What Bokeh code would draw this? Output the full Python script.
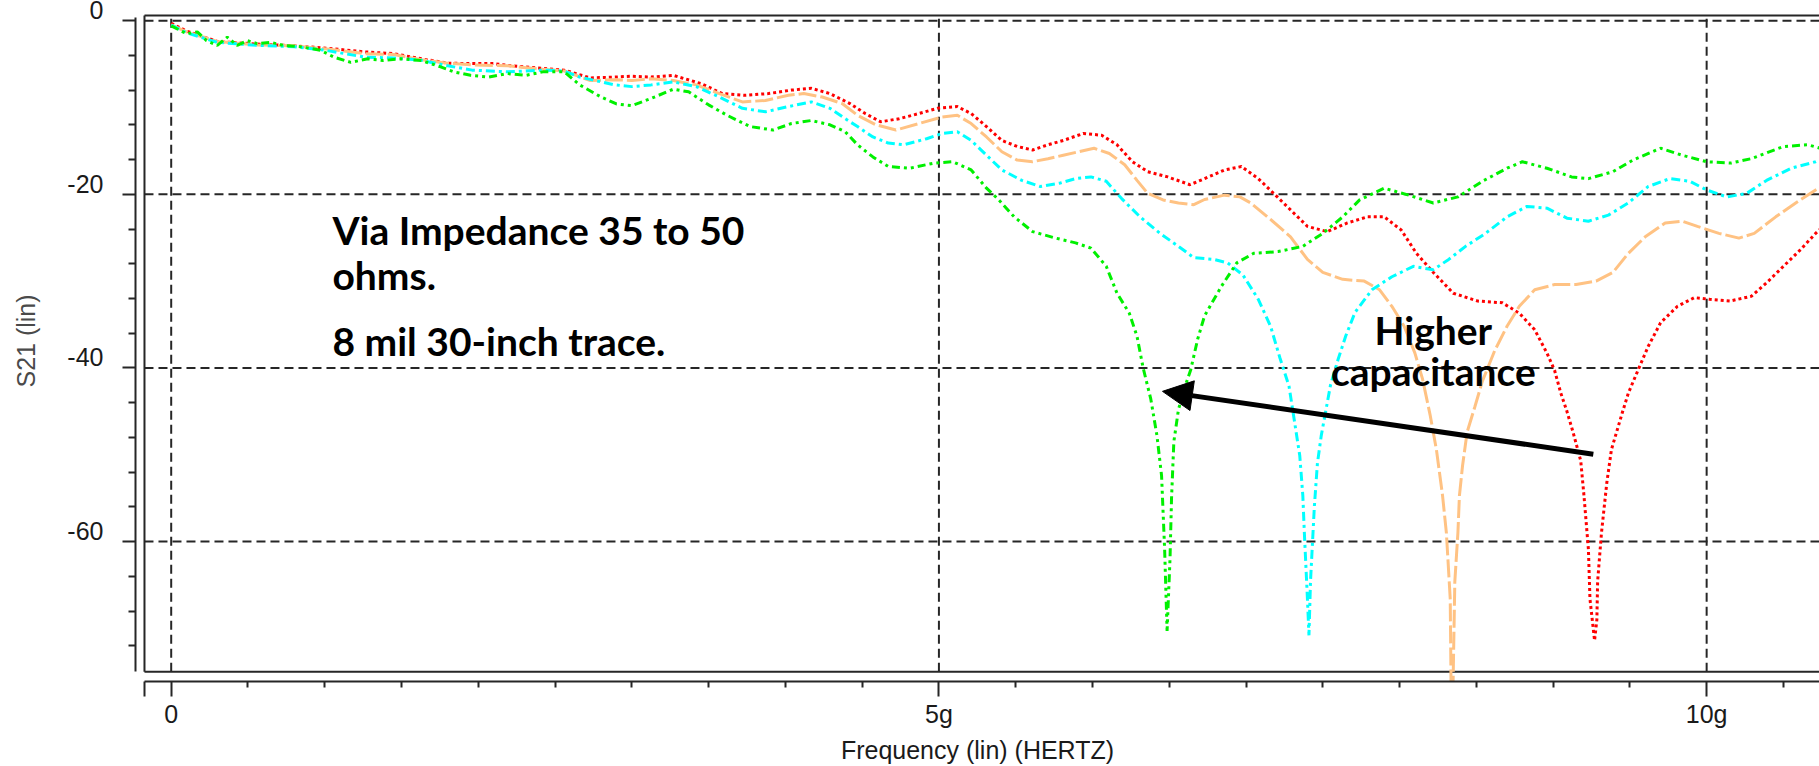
import math

from bokeh.plotting import figure
from bokeh.models import (ColumnDataSource, Range1d, FixedTicker, CustomJSTickFormatter,
                          Label, Arrow, NormalHead, LinearAxis)
from bokeh.embed import file_html
from bokeh.resources import INLINE

# ---------------------------------------------------------------------------
# S21 magnitude (lin) versus frequency (GHz) for four via impedances
# ---------------------------------------------------------------------------
freq_red = [0.00, 0.10, 0.30, 0.56, 0.80, 1.03, 1.26, 1.45, 1.63, 1.80, 1.96, 2.10, 2.19, 2.42,
            2.56, 2.73, 2.89, 3.00, 3.125, 3.27, 3.45, 3.59, 3.74, 3.89, 4.04, 4.17, 4.29, 4.42,
            4.52, 4.62, 4.74, 4.87, 4.99, 5.12, 5.21, 5.31, 5.41, 5.51, 5.61, 5.71, 5.81, 5.94,
            6.06, 6.16, 6.26, 6.36, 6.49, 6.635, 6.73, 6.86, 6.97, 7.08, 7.18, 7.29, 7.40, 7.53,
            7.66, 7.79, 7.90, 8.01, 8.11, 8.22, 8.35, 8.51, 8.67, 8.78, 8.88, 8.96, 9.01, 9.05,
            9.09, 9.13, 9.18, 9.20, 9.23, 9.24, 9.27, 9.285, 9.29, 9.315, 9.35, 9.38, 9.45, 9.49,
            9.545, 9.62, 9.70, 9.81, 9.92, 10.02, 10.15, 10.29, 10.39, 10.50, 10.61, 10.71, 10.74]
s21_red = [-0.3, -1.2, -2.4, -2.7, -2.9, -3.2, -3.6, -3.8, -4.4, -4.9, -4.95, -4.95, -5.15, -5.5,
           -5.7, -6.6, -6.5, -6.4, -6.5, -6.3, -7.25, -8.4, -8.6, -8.4, -8.0, -7.8, -8.4, -9.55,
           -10.7, -11.65, -11.3, -10.7, -10.1, -9.9, -10.7, -12.2, -13.8, -14.5, -14.9, -14.3,
           -13.8, -13.0, -13.2, -14.3, -16.25, -17.4, -18.0, -18.9, -18.2, -17.2, -16.8, -18.2,
           -19.9, -21.8, -23.7, -24.3, -23.3, -22.6, -22.6, -24.1, -26.8, -29.0, -31.4, -32.3,
           -32.5, -33.7, -35.6, -38.3, -40.3, -42.9, -45.0, -47.4, -50.7, -54.5, -60.9, -66.6,
           -71.4, -69.0, -64.6, -59.0, -53.2, -49.4, -45.2, -42.9, -40.6, -37.5, -34.8, -32.9,
           -31.9, -32.1, -32.3, -31.75, -30.2, -28.3, -26.4, -24.5, -24.0]

freq_peach = [0.00, 0.10, 0.30, 0.56, 0.80, 1.03, 1.26, 1.45, 1.63, 1.80, 1.96, 2.19, 2.42, 2.56,
              2.73, 2.89, 3.00, 3.125, 3.27, 3.42, 3.57, 3.72, 3.87, 4.02, 4.12, 4.24, 4.37, 4.47,
              4.59, 4.72, 4.87, 5.02, 5.12, 5.21, 5.31, 5.41, 5.51, 5.61, 5.71, 5.81, 5.91, 6.01,
              6.11, 6.21, 6.29, 6.36, 6.46, 6.56, 6.66, 6.73, 6.86, 6.96, 7.03, 7.16, 7.29, 7.40,
              7.50, 7.63, 7.77, 7.87, 7.95, 8.03, 8.10, 8.15, 8.20, 8.24, 8.28, 8.305, 8.33, 8.34,
              8.36, 8.38, 8.39, 8.41, 8.44, 8.49, 8.54, 8.62, 8.70, 8.78, 8.88, 9.01, 9.15, 9.28,
              9.39, 9.49, 9.60, 9.73, 9.84, 9.94, 10.08, 10.21, 10.31, 10.45, 10.58, 10.71, 10.74]
s21_peach = [-0.5, -1.3, -2.4, -2.8, -2.9, -3.3, -3.8, -3.9, -4.5, -4.9, -5.1, -5.2, -5.6, -5.8,
             -6.9, -6.8, -6.9, -6.7, -6.9, -7.4, -8.4, -9.36, -9.2, -8.6, -8.4, -8.8, -9.55,
             -10.9, -12.0, -12.6, -11.85, -11.1, -10.9, -11.85, -13.4, -15.1, -16.06, -16.25,
             -15.9, -15.5, -15.1, -14.7, -15.3, -16.6, -18.4, -19.9, -20.65, -21.0, -21.2, -20.6,
             -20.1, -20.3, -21.0, -22.9, -24.9, -27.5, -29.0, -29.8, -30.0, -31.0, -32.9, -35.2,
             -38.3, -41.3, -45.5, -49.4, -54.7, -59.0, -66.6, -85.0, -64.6, -59.0, -54.7, -51.3,
             -47.4, -44.5, -41.5, -38.0, -35.2, -32.9, -31.0, -30.4, -30.4, -30.0, -29.0, -26.8,
             -24.9, -23.3, -23.1, -23.7, -24.5, -25.05, -24.5, -22.6, -21.0, -19.5, -19.2]

freq_cyan = [0.00, 0.10, 0.30, 0.56, 0.80, 1.00, 1.26, 1.45, 1.63, 1.80, 1.96, 2.19, 2.42, 2.56,
             2.66, 2.89, 3.00, 3.125, 3.27, 3.42, 3.57, 3.72, 3.87, 4.02, 4.17, 4.29, 4.39, 4.47,
             4.57, 4.67, 4.77, 4.92, 5.02, 5.12, 5.21, 5.31, 5.41, 5.54, 5.66, 5.79, 5.89, 5.99,
             6.09, 6.19, 6.31, 6.44, 6.56, 6.66, 6.79, 6.88, 6.98, 7.08, 7.16, 7.22, 7.28, 7.31,
             7.35, 7.37, 7.38, 7.40, 7.41, 7.42, 7.445, 7.465, 7.49, 7.55, 7.60, 7.65, 7.71, 7.82,
             7.95, 8.09, 8.22, 8.32, 8.43, 8.56, 8.70, 8.83, 8.96, 9.09, 9.23, 9.36, 9.49, 9.62,
             9.76, 9.89, 10.00, 10.13, 10.26, 10.39, 10.55, 10.71, 10.74]
s21_cyan = [-0.5, -1.4, -2.5, -2.85, -3.0, -3.4, -4.2, -4.3, -4.57, -5.2, -5.7, -5.9, -5.7, -5.8,
            -6.5, -7.4, -7.6, -7.4, -7.06, -7.6, -8.8, -10.1, -10.5, -9.9, -9.36, -10.1, -11.3,
            -12.2, -13.4, -14.1, -14.3, -13.6, -13.0, -12.8, -13.8, -15.5, -17.2, -18.4, -19.1,
            -18.7, -18.2, -18.0, -18.5, -20.5, -22.6, -24.5, -26.0, -27.3, -27.5, -27.9, -29.3,
            -32.1, -35.2, -38.8, -42.1, -45.5, -50.1, -54.7, -59.0, -66.6, -70.8, -64.6, -56.0,
            -51.0, -47.8, -42.0, -39.0, -36.3, -33.6, -31.0, -29.5, -28.3, -28.7, -27.5, -26.0,
            -24.5, -22.6, -21.4, -21.6, -22.75, -23.1, -22.4, -21.0, -19.1, -18.2, -18.5, -19.5,
            -20.3, -19.9, -18.4, -17.0, -16.25, -16.0]

freq_green = [0.00, 0.10, 0.17, 0.23, 0.30, 0.365, 0.43, 0.495, 0.56, 0.65, 0.73, 0.84, 0.97,
              1.06, 1.17, 1.28, 1.38, 1.49, 1.63, 1.75, 1.84, 1.95, 2.07, 2.19, 2.31, 2.42, 2.56,
              2.66, 2.80, 2.90, 3.00, 3.12, 3.27, 3.37, 3.50, 3.62, 3.77, 3.92, 4.04, 4.17, 4.29,
              4.39, 4.47, 4.57, 4.67, 4.81, 4.97, 5.09, 5.21, 5.31, 5.39, 5.49, 5.61, 5.76, 5.89,
              5.99, 6.09, 6.16, 6.24, 6.29, 6.33, 6.38, 6.42, 6.45, 6.47, 6.486, 6.505, 6.515,
              6.53, 6.56, 6.60, 6.64, 6.685, 6.73, 6.84, 6.94, 7.05, 7.21, 7.37, 7.50, 7.63, 7.74,
              7.90, 8.06, 8.22, 8.38, 8.54, 8.70, 8.80, 8.96, 9.12, 9.23, 9.39, 9.52, 9.70, 9.84,
              10.00, 10.16, 10.29, 10.50, 10.66, 10.74]
s21_green = [-0.6, -1.5, -1.3, -2.3, -2.85, -1.9, -2.85, -2.3, -2.65, -2.5, -2.85, -3.0, -3.4,
             -4.2, -4.8, -4.4, -4.6, -4.4, -4.6, -5.3, -5.9, -6.3, -6.5, -6.1, -6.3, -5.9, -5.9,
             -7.4, -8.8, -9.6, -9.8, -9.0, -7.9, -8.2, -9.7, -10.9, -12.2, -12.6, -11.85, -11.5,
             -12.0, -12.8, -14.3, -15.7, -16.8, -17.0, -16.4, -16.25, -17.2, -19.3, -20.65, -22.6,
             -24.3, -25.05, -25.6, -26.2, -28.3, -31.4, -33.7, -36.35, -40.0, -43.6, -47.8, -52.4,
             -60.9, -70.3, -62.0, -55.0, -48.5, -44.8, -42.3, -40.2, -36.7, -34.0, -30.6, -27.9,
             -26.8, -26.6, -26.0, -24.5, -22.6, -20.65, -19.3, -20.1, -21.0, -20.3, -18.5, -17.0,
             -16.25, -17.0, -18.0, -18.2, -17.4, -16.06, -14.7, -15.5, -16.25, -16.4, -15.9, -14.5,
             -14.3, -14.7]

# axis ticks and labels
x_tick_values = [0, 5, 10]
x_tick_labels = ["0", "5g", "10g"]
y_tick_values = [0, -20, -40, -60]
y_tick_labels = ["0", "-20", "-40", "-60"]

# ---------------------------------------------------------------------------
# plot geometry (data units)
# ---------------------------------------------------------------------------
X_LO, X_HI = -0.2325, 10.735
Y_LO, Y_HI = -76.12, 2.32
BOX_LEFT, BOX_TOP, BOX_BOTTOM = -0.174, 0.6, -75.0
BOX_RIGHT = 11.5
LABEL_LIFT = 1.2          # y tick labels sit a little above their ticks

INK = "#262626"
TXT = "#1a1a1a"
AXIS_FONT = "Liberation Sans"


def lookup_formatter(vals, labs):
    return CustomJSTickFormatter(
        args=dict(vals=vals, labs=labs),
        code="""
        for (let i = 0; i < vals.length; i++) {
            if (Math.abs(vals[i] - tick) < 1e-6) { return labs[i]; }
        }
        return "";
        """)


p = figure(width=1819, height=766, title=None,
           x_range=Range1d(X_LO, X_HI), y_range=Range1d(Y_LO, Y_HI),
           output_backend="svg", toolbar_location=None,
           min_border_left=135, min_border_right=0, min_border_top=0, min_border_bottom=83)
p.outline_line_color = None
p.grid.visible = False
p.background_fill_color = "white"
p.border_fill_color = "white"
p.extra_y_ranges = {"ylab": Range1d(Y_LO - LABEL_LIFT, Y_HI - LABEL_LIFT)}

# x axis: separate base line below the box, ticks pointing down
xa = p.xaxis[0]
x_minor = [0.5 * k for k in range(1, 23) if k % 10 != 0]
xa.ticker = FixedTicker(ticks=[BOX_LEFT] + x_tick_values, minor_ticks=x_minor)
xa.formatter = lookup_formatter(x_tick_values, x_tick_labels)
xa.bounds = (BOX_LEFT - 0.002, BOX_RIGHT)
xa.axis_line_width = 2
xa.axis_line_color = INK
xa.major_tick_in = 0
xa.major_tick_out = 15
xa.minor_tick_in = 0
xa.minor_tick_out = 6
xa.major_tick_line_width = 2
xa.minor_tick_line_width = 2
xa.major_tick_line_color = INK
xa.minor_tick_line_color = INK
xa.major_label_text_font = AXIS_FONT
xa.major_label_text_font_size = "25px"
xa.major_label_text_color = TXT
xa.major_label_standoff = 3
xa.axis_label = "Frequency (lin) (HERTZ)"
xa.axis_label_standoff = 5
xa.axis_label_text_font = AXIS_FONT
xa.axis_label_text_font_size = "25px"
xa.axis_label_text_font_style = "normal"
xa.axis_label_text_color = TXT

# y axis: separate base line left of the box, ticks only
ya = p.yaxis[0]
y_minor = [-4 * k for k in range(1, 19) if k % 5 != 0]
ya.ticker = FixedTicker(ticks=y_tick_values, minor_ticks=y_minor)
ya.formatter = CustomJSTickFormatter(code="return '';")
ya.bounds = (BOX_BOTTOM, 0.37)
ya.axis_line_width = 2
ya.axis_line_color = INK
ya.major_tick_in = 0
ya.major_tick_out = 13
ya.minor_tick_in = 0
ya.minor_tick_out = 7
ya.major_tick_line_width = 2
ya.minor_tick_line_width = 2
ya.major_tick_line_color = INK
ya.minor_tick_line_color = INK
ya.major_label_standoff = 0

# y tick labels and title, lifted slightly above the ticks
ylab = LinearAxis(y_range_name="ylab",
                  ticker=FixedTicker(ticks=y_tick_values, minor_ticks=[]),
                  formatter=lookup_formatter(y_tick_values, y_tick_labels),
                  axis_line_color=None, major_tick_line_color=None, minor_tick_line_color=None,
                  major_tick_in=0, major_tick_out=0, minor_tick_in=0, minor_tick_out=0,
                  major_label_standoff=19, major_label_text_font=AXIS_FONT,
                  major_label_text_font_size="25px", major_label_text_color=TXT,
                  axis_label="S21 (lin)", axis_label_standoff=24,
                  axis_label_text_font=AXIS_FONT, axis_label_text_font_size="25px",
                  axis_label_text_font_style="normal", axis_label_text_color="#4a4a4a")
p.add_layout(ylab, "left")

# dashed grid inside the box
n_x, n_y = len(x_tick_values), len(y_tick_values)
p.segment(x0=x_tick_values, y0=[BOX_BOTTOM] * n_x, x1=x_tick_values, y1=[BOX_TOP] * n_x,
          line_color=INK, line_width=2, line_dash="9 5")
p.segment(x0=[BOX_LEFT] * n_y, y0=y_tick_values, x1=[BOX_RIGHT] * n_y, y1=y_tick_values,
          line_color=INK, line_width=2, line_dash="9 5")

# box border (left, top, bottom)
p.segment(x0=[BOX_LEFT, BOX_LEFT, BOX_LEFT], y0=[BOX_TOP, BOX_TOP, BOX_BOTTOM],
          x1=[BOX_LEFT, BOX_RIGHT, BOX_RIGHT], y1=[BOX_BOTTOM, BOX_TOP, BOX_BOTTOM],
          line_color=INK, line_width=2)

# traces
traces = [
    (freq_red, s21_red, "#ff0000", "3 3"),
    (freq_peach, s21_peach, "#ffc283", "18 4"),
    (freq_cyan, s21_cyan, "#00ffff", "9 4 3 4"),
    (freq_green, s21_green, "#00f000", "8 4 3 4 3 4"),
]
for fx, fy, col, dash in traces:
    src = ColumnDataSource(data=dict(f=fx, s=fy))
    p.line("f", "s", source=src, line_color=col, line_width=3, line_dash=dash)

# notes
NOTE_FONT = "Lato"
for txt, yb in [("Via Impedance 35 to 50", -24.1), ("ohms.", -29.26),
                ("8 mil 30-inch trace.", -36.92)]:
    p.add_layout(Label(x=1.05, y=yb, text=txt, text_align="left", text_baseline="alphabetic",
                       text_font=NOTE_FONT, text_font_style="bold", text_font_size="39px",
                       text_color="black"))
for txt, yb in [("Higher", -35.58), ("capacitance", -40.37)]:
    p.add_layout(Label(x=8.22, y=yb, text=txt, text_align="center", text_baseline="alphabetic",
                       text_font=NOTE_FONT, text_font_style="bold", text_font_size="39px",
                       text_color="black"))

p.add_layout(Arrow(end=NormalHead(size=30, fill_color="black", line_color="black"),
                   x_start=9.262, y_start=-49.94, x_end=6.456, y_end=-42.7,
                   line_color="black", line_width=5))

open("out.html", "w").write(file_html(p, INLINE))
